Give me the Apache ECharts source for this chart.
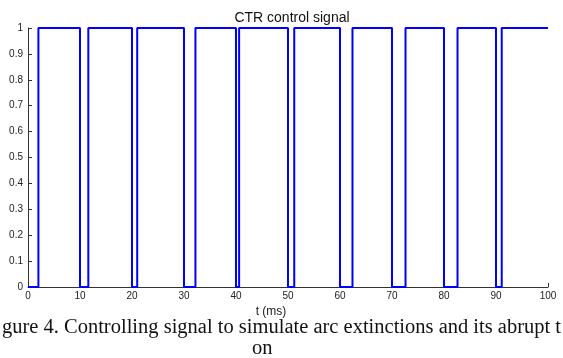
<!DOCTYPE html>
<html><head><meta charset="utf-8">
<script src="https://cdn.jsdelivr.net/npm/echarts@6/dist/echarts.min.js"></script>
<style>html,body{margin:0;padding:0;background:#fff}#c{width:563px;height:358px}</style>
</head><body><div id="c"></div>
<script>
// switching instants (ms) and the level reached at each instant
var switchTimes = [0, 2, 10, 11.6, 20, 21, 30, 32.2, 40, 40.6, 50, 51.2, 60, 62.4, 70, 72.6, 80, 82.6, 90, 91.1, 100];
var levels      = [0, 1, 0, 1,    0,  1,  0,  1,    0,  1,    0,  1,    0,  1,    0,  1,    0,  1,    0,  1,    1];
var xTicks = [0, 10, 20, 30, 40, 50, 60, 70, 80, 90, 100];
var yTicks = [0, 0.1, 0.2, 0.3, 0.4, 0.5, 0.6, 0.7, 0.8, 0.9, 1];
var titleText = 'CTR control signal';
var xName = 't (ms)';
var captionLine1 = 'gure 4. Controlling signal to simulate arc extinctions and its abrupt t';
var captionLine2 = 'on';

var data = switchTimes.map(function(t, i){ return [t, levels[i]]; });
var chart = echarts.init(document.getElementById('c'));
var axisFont = {fontFamily: 'Liberation Sans, Arial, sans-serif', fontSize: 10, color: '#222'};
chart.setOption({
  animation: false,
  title: {text: titleText, left: 287, top: 6, textAlign: 'center',
    textStyle: {fontFamily: 'Liberation Sans, Arial, sans-serif', fontSize: 14, fontWeight: 'normal', color: '#111'}},
  grid: {left: 28, right: 15, top: 28, bottom: 71},
  xAxis: {type: 'value', min: 0, max: 100, interval: 10,
    name: xName, nameLocation: 'middle', nameGap: 16,
    nameTextStyle: {fontFamily: 'Liberation Sans, Arial, sans-serif', fontSize: 12, color: '#222', padding: [0, 34, 0, 0]},
    axisLine: {show: true, onZero: false, lineStyle: {color: '#333', width: 1}},
    axisTick: {show: true, inside: true, length: 4, lineStyle: {color: '#333'}},
    axisLabel: Object.assign({margin: 4, formatter: function(v){ return xTicks.indexOf(v) >= 0 ? String(v) : ''; }}, axisFont),
    splitLine: {show: false}},
  yAxis: {type: 'value', min: 0, max: 1, interval: 0.1,
    axisLine: {show: true, lineStyle: {color: '#333', width: 1}},
    axisTick: {show: true, inside: true, length: 4, lineStyle: {color: '#333'}},
    axisLabel: Object.assign({margin: 5, formatter: function(v){
      var r = Math.round(v * 10) / 10; return yTicks.indexOf(r) >= 0 ? String(r) : ''; }}, axisFont),
    splitLine: {show: false}},
  series: [{type: 'line', data: data, step: 'end', symbol: 'none',
    lineStyle: {color: '#0000ff', width: 2}, clip: false}],
  graphic: [
    {type: 'text', left: 'center', top: 317, style: {text: captionLine1,
      font: '20.5px "Liberation Serif", "Times New Roman", serif', fill: '#111'}},
    {type: 'text', left: 252, top: 338, style: {text: captionLine2,
      font: '20.5px "Liberation Serif", "Times New Roman", serif', fill: '#111'}}
  ]
});
</script></body></html>
